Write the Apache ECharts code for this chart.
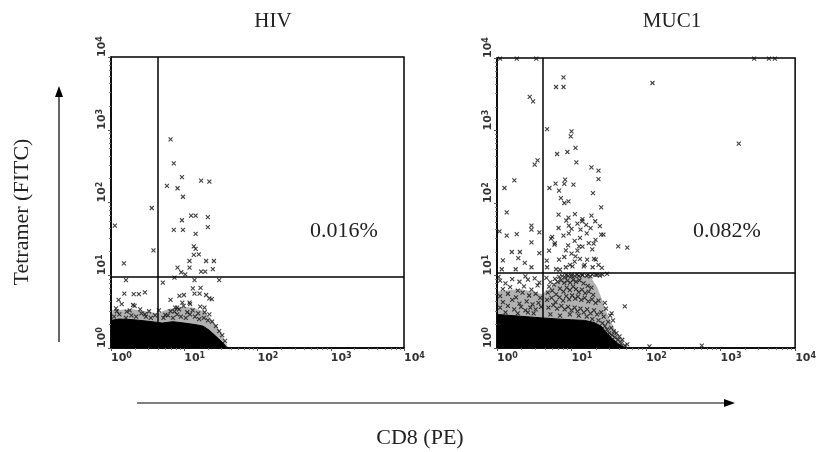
<!DOCTYPE html>
<html>
<head>
<meta charset="utf-8">
<script src="https://cdn.jsdelivr.net/npm/echarts@6/dist/echarts.min.js"></script>
<style>html,body{margin:0;background:#fff}#main{width:819px;height:452px}</style>
</head>
<body>
<div id="main"></div>
<script>
// tick values (log scale) and exponent labels
const tickValues = [1, 10, 100, 1000, 10000];
const tickExponents = ['0', '1', '2', '3', '4'];
const panelTitles = ['HIV', 'MUC1'];
const gatePercents = ['0.016%', '0.082%'];

// quadrant gates [x, y]
const hivGate = [4.35, 9.6];
const mucGate = [4.1, 11];

// upper edge of the solid (saturated) population
const hivBlob = [[1, 2.4], [1.3, 2.5], [2, 2.45], [3, 2.35], [4.3, 2.25], [5, 2.2], [7, 2.3], [10, 2.2],
  [14, 2.1], [18, 2.0], [22, 1.75], [27, 1.45], [33, 1.2], [38, 1.02], [39, 1]];
const mucBlob = [[1, 2.9], [2, 2.75], [4, 2.6], [7, 2.5], [10, 2.45], [15, 2.4], [20, 2.25], [25, 2.0],
  [30, 1.6], [35, 1.35], [42, 1.15], [50, 1.03], [52, 1]];
// upper edge of the speckled (medium density) zone
const hivHaze = [[1, 3.3], [2, 3.4], [3, 3.2], [4.3, 3.0], [6, 3.4], [9, 3.7], [13, 3.6], [18, 3.2],
  [22, 2.7], [27, 2.1], [32, 1.6], [36, 1.25], [40, 1]];
const mucHaze = [[1, 6.0], [2, 6.5], [3, 6.0], [4, 5.5], [5, 6.5], [7, 8.5], [9, 9.8], [13, 10],
  [18, 9.5], [22, 7.0], [26, 4.5], [30, 3.0], [36, 2.0], [44, 1.4], [52, 1.12], [58, 1]];

// individual events
const hivEvents = [
  [6.5, 738], [7.2, 345], [9.3, 224], [17, 200], [22, 193], [5.8, 169], [8.1, 157], [9.6, 120], [3.6, 84],
  [1.13, 48], [9.3, 57], [12.4, 66], [14.3, 66], [21, 63], [7.2, 42], [9.6, 42], [21, 46], [14.3, 37],
  [13.5, 25], [14.3, 23], [3.8, 22], [13.5, 19], [15.8, 19.4], [11.8, 15.7], [19.9, 15.7], [25.4, 15.7],
  [1.5, 14.6], [8.1, 12.7], [11.8, 12.7], [17, 11.2], [19.3, 11.2], [24.6, 12.1], [9.1, 11], [10.3, 10.3],
  [7.35, 9.3], [5.1, 7.9], [1.6, 8.6], [13.8, 8.6], [30, 8.6], [13.1, 6.6], [16.7, 6.7], [1.52, 5.6],
  [2.04, 5.5], [2.4, 5.5], [2.9, 5.8], [13.8, 5.6], [16.2, 5.6], [19.9, 5.35], [22, 4.8], [23.8, 4.7],
  [8.6, 5.2], [9.9, 5.35], [1.27, 4.6], [6.5, 4.6], [2.1, 3.8], [9.4, 4.2], [11.8, 4.2], [8.0, 3.6],
  [18.9, 3.6], [2.9, 2.9], [1.17, 3.5], [1.64, 3.16], [5.5, 2.85], [7.35, 3.16]
];
const hivSpeckle = [
  [1.1, 2.7], [1.3, 2.9], [1.6, 2.6], [1.9, 2.8], [2.2, 2.7], [2.6, 3.0], [3.0, 2.7], [3.5, 2.6], [4.0, 2.8],
  [1.2, 3.2], [1.8, 3.3], [2.5, 3.4], [3.3, 3.2], [5.2, 2.6], [6.0, 2.8], [7.0, 2.6], [8.0, 2.9], [9.0, 2.7],
  [10.5, 2.6], [12, 2.9], [14, 2.7], [16, 2.5], [18.5, 2.6], [21, 2.4], [24, 2.3], [27, 2.0], [30, 1.7],
  [33, 1.5], [36, 1.25], [6.5, 3.2], [8.5, 3.4], [11, 3.1], [13, 3.3], [15.5, 3.0], [19, 3.1], [22, 2.9],
  [9.8, 3.8], [12, 4.0], [16.5, 3.7], [7.5, 3.6], [4.5, 3.3], [1.4, 4.0], [2.0, 3.9]
];
const mucEvents = [
  [1.1, 9800], [1.84, 9800], [3.37, 9800], [2818, 9800], [4450, 9800], [5340, 9800],
  [7.8, 5410], [6.2, 3980], [7.8, 3980], [122, 4520], [2.75, 2900], [3.05, 2525], [4.7, 1047], [10, 974],
  [9.75, 832], [1754, 658], [11.3, 574], [8.8, 505], [6.4, 474], [11.6, 364], [3.5, 388], [3.2, 338],
  [18.5, 311], [23, 279], [23, 214], [1.71, 205], [8.2, 210], [8.0, 183], [10.6, 179], [6.1, 185],
  [5.05, 161], [1.26, 161], [6.8, 148], [19.4, 137], [7.2, 117], [9.1, 105], [8.0, 100], [25, 87],
  [1.35, 74], [6.7, 69], [11.1, 70], [9.1, 63], [13.9, 56], [18.5, 67], [20.8, 56], [2.9, 48.7], [2.9, 42.9],
  [3.7, 39.4], [1.08, 40.6], [1.35, 35.4], [1.84, 37.3], [6.7, 45.2], [9.2, 48.7], [5.3, 32.2], [7.8, 35.4],
  [9.2, 38], [13.2, 42.9], [15.7, 50], [25, 36.6], [26.8, 36.6], [2.9, 28.7], [42.3, 25.3], [56, 24.2],
  [1.58, 21.1], [2.03, 21.1], [3.7, 20.4], [5.9, 26.6], [12.6, 25.3], [19.8, 27.5], [8.4, 22.2], [11.3, 18.4],
  [6.8, 16.5], [1.93, 17.4], [4.65, 16], [16.2, 16.5], [21.2, 16.5], [1.2, 16.2], [2.36, 14.9], [2.9, 13],
  [8.4, 13], [14.6, 13.4], [19.2, 13], [25.5, 12.7], [1.16, 12.2], [1.78, 12.2], [6.2, 12.2], [10.3, 13.4],
  [7.0, 12], [9.5, 14], [11, 15.5], [13, 17], [15, 14], [8, 18], [10, 20], [12, 22], [14, 25], [17, 28],
  [19, 23], [21, 31], [9, 26], [11, 30], [13, 33], [16, 38], [18, 45], [12, 52], [14, 60], [10, 44],
  [8.5, 57], [20, 17], [23, 14], [6, 28], [5, 22], [4.7, 13], [5.5, 34], [24, 48]
];
const mucSpeckle = [
  [1.1, 8.5], [1.3, 7.8], [1.6, 8.9], [2.0, 8.2], [2.6, 8.8], [3.2, 9.1], [1.2, 6.5], [1.5, 6.9], [1.9, 6.2],
  [2.3, 7.1], [2.9, 6.4], [3.5, 7.3], [1.1, 5.2], [1.4, 5.6], [1.8, 5.0], [2.2, 5.8], [2.7, 5.3], [3.3, 5.6],
  [3.8, 4.9], [1.2, 4.3], [1.6, 4.6], [2.0, 4.1], [2.5, 4.4], [3.0, 4.0], [3.6, 4.2], [1.1, 3.6], [1.4, 3.8],
  [1.7, 3.4], [2.1, 3.7], [2.4, 3.3], [2.8, 3.6], [3.3, 3.4], [3.9, 3.7], [1.3, 3.1], [1.9, 3.0], [2.6, 3.1],
  [3.1, 3.0], [1.05, 9.6], [2.4, 9.7], [3.7, 8.0],
  [4.6, 9.3], [5.2, 8.1], [6.0, 9.0], [6.8, 9.6], [7.5, 9.8], [8.2, 9.4], [9.0, 9.9], [10, 9.7], [11, 9.9],
  [12.5, 9.8], [14, 10.1], [16, 9.9], [18, 9.7], [21, 10.2], [24, 10.0],
  [5.0, 7.0], [5.8, 7.5], [6.5, 8.2], [7.2, 8.6], [8.0, 7.9], [8.8, 8.5], [9.6, 8.0], [10.5, 8.7], [11.5, 8.2],
  [12.8, 8.6], [14.5, 7.8], [16.5, 7.2], [18.5, 6.8],
  [4.8, 5.8], [5.5, 6.2], [6.2, 5.5], [7.0, 6.6], [7.8, 6.0], [8.6, 6.8], [9.5, 6.3], [10.5, 7.0], [11.5, 6.5],
  [12.5, 5.9], [13.8, 6.4], [15.2, 5.7], [17, 6.0], [19.5, 5.4],
  [4.7, 4.6], [5.4, 4.9], [6.1, 4.3], [6.9, 5.0], [7.7, 4.5], [8.5, 5.2], [9.3, 4.7], [10.2, 5.3], [11.2, 4.8],
  [12.2, 5.1], [13.5, 4.6], [15, 4.9], [16.8, 4.4], [18.8, 4.7], [21, 4.2], [23, 4.5],
  [4.9, 3.6], [5.7, 3.9], [6.4, 3.5], [7.3, 3.8], [8.1, 3.4], [9.0, 3.7], [10, 3.3], [11, 3.6], [12, 3.2],
  [13.2, 3.5], [14.6, 3.1], [16.2, 3.4], [18, 3.0], [20, 3.3], [22, 2.9], [25, 3.1], [27, 2.7],
  [5.2, 2.9], [7.0, 2.8], [9.5, 2.9], [12.5, 2.8], [16, 2.7], [19, 2.5], [23, 2.4], [26, 2.2],
  [28, 2.0], [30, 1.8], [32, 1.6], [35, 1.5], [38, 1.4], [42, 1.3], [46, 1.15], [52, 1.08], [31, 2.3],
  [34, 1.9], [37, 1.7], [40, 1.6], [44, 1.45], [48, 1.3], [56, 1.12], [29, 3.5], [33, 2.8], [28, 4.2],
  [36, 2.4], [51.8, 3.76], [34.5, 3.0], [111, 1.05], [559, 1.08],
  [8.5, 10.2], [10, 10.3], [12, 10.4], [14, 10.2], [16.5, 10.3], [19, 10.4], [22, 10.2], [26, 10.3], [30, 10.5]
];

const CROSS = 'path://M0,0L10,10M10,0L0,10';
const serif = '"Liberation Serif", "Times New Roman", serif';

function tickLabel(value) {
  const i = tickValues.indexOf(value);
  if (i < 0) return '';
  return '{b|10}{s|' + tickExponents[i] + '}';
}
const tickRich = {
  b: { fontSize: 11, fontFamily: 'DejaVu Sans', fontWeight: 'bold', color: '#333' },
  s: { fontSize: 8, fontFamily: 'DejaVu Sans', fontWeight: 'bold', color: '#333', padding: [0, 0, 5, 0] }
};

function makeAxis(idx, isY) {
  return {
    type: 'log', logBase: 10, min: 1, max: 10000, gridIndex: idx,
    axisLine: { show: true, onZero: false, lineStyle: { color: '#000', width: 1.5 } },
    axisTick: { show: true, length: 3, lineStyle: { color: '#555' } },
    minorTick: { show: true, splitNumber: 8, length: 2, lineStyle: { color: '#777' } },
    splitLine: { show: false },
    axisLabel: isY
      ? { rotate: 90, align: 'left', verticalAlign: 'middle', margin: 9, formatter: tickLabel, rich: tickRich }
      : { align: 'left', margin: 4, formatter: tickLabel, rich: tickRich }
  };
}

function areaSeries(data, idx, opacity) {
  return {
    type: 'line', xAxisIndex: idx, yAxisIndex: idx, data: data, symbol: 'none',
    lineStyle: { color: '#000', width: opacity < 1 ? 0 : 1 },
    areaStyle: { color: '#000', opacity: opacity, origin: 'start' }, z: 2
  };
}
function crossSeries(data, idx, gate) {
  const s = {
    type: 'scatter', xAxisIndex: idx, yAxisIndex: idx, data: data,
    symbol: CROSS, symbolSize: 4,
    itemStyle: { color: '#000', borderColor: '#111', borderWidth: 1.1 }, z: 3
  };
  if (gate) {
    s.markLine = {
      silent: true, symbol: 'none', label: { show: false },
      lineStyle: { color: '#000', width: 1.5, type: 'solid' },
      data: [{ xAxis: gate[0] }, { yAxis: gate[1] }]
    };
  }
  return s;
}

const myChart = echarts.init(document.getElementById('main'));
const option = {
  animation: false,
  backgroundColor: '#fff',
  title: [
    { text: panelTitles[0], left: 268, top: 6, textAlign: 'center',
      textStyle: { fontFamily: serif, fontSize: 21, fontWeight: 'normal', color: '#222' } },
    { text: panelTitles[1], left: 667, top: 6, textAlign: 'center',
      textStyle: { fontFamily: serif, fontSize: 21, fontWeight: 'normal', color: '#222' } }
  ],
  grid: [
    { left: 111, top: 57, width: 293, height: 291, show: true, borderColor: '#000', borderWidth: 1.5 },
    { left: 497, top: 58, width: 303, height: 290, show: true, borderColor: '#000', borderWidth: 1.5 }
  ],
  xAxis: [makeAxis(0, false), makeAxis(1, false)],
  yAxis: [makeAxis(0, true), makeAxis(1, true)],
  series: [
    areaSeries(hivHaze, 0, 0.3),
    areaSeries(hivBlob, 0, 1),
    crossSeries(hivSpeckle, 0),
    crossSeries(hivEvents, 0, hivGate),
    areaSeries(mucHaze, 1, 0.3),
    areaSeries(mucBlob, 1, 1),
    crossSeries(mucSpeckle, 1),
    crossSeries(mucEvents, 1, mucGate)
  ],
  graphic: [
    { type: 'text', x: 344, y: 231, style: { text: gatePercents[0], font: '22px ' + serif, fill: '#222', textAlign: 'center', textVerticalAlign: 'middle' } },
    { type: 'text', x: 727, y: 231, style: { text: gatePercents[1], font: '22px ' + serif, fill: '#222', textAlign: 'center', textVerticalAlign: 'middle' } },
    { type: 'text', x: 22, y: 212, rotation: Math.PI / 2,
      style: { text: 'Tetramer (FITC)', font: '22px ' + serif, fill: '#222', textAlign: 'center', textVerticalAlign: 'middle' } },
    { type: 'text', x: 420, y: 438, style: { text: 'CD8 (PE)', font: '22px ' + serif, fill: '#222', textAlign: 'center', textVerticalAlign: 'middle' } },
    { type: 'line', shape: { x1: 59, y1: 342, x2: 59, y2: 95 }, style: { stroke: '#000', lineWidth: 1.2 } },
    { type: 'polygon', shape: { points: [[59, 86], [55, 97], [63, 97]] }, style: { fill: '#000' } },
    { type: 'line', shape: { x1: 137, y1: 403, x2: 726, y2: 403 }, style: { stroke: '#000', lineWidth: 1.2 } },
    { type: 'polygon', shape: { points: [[735, 403], [724, 399], [724, 407]] }, style: { fill: '#000' } }
  ]
};
myChart.setOption(option);
</script>
</body>
</html>
